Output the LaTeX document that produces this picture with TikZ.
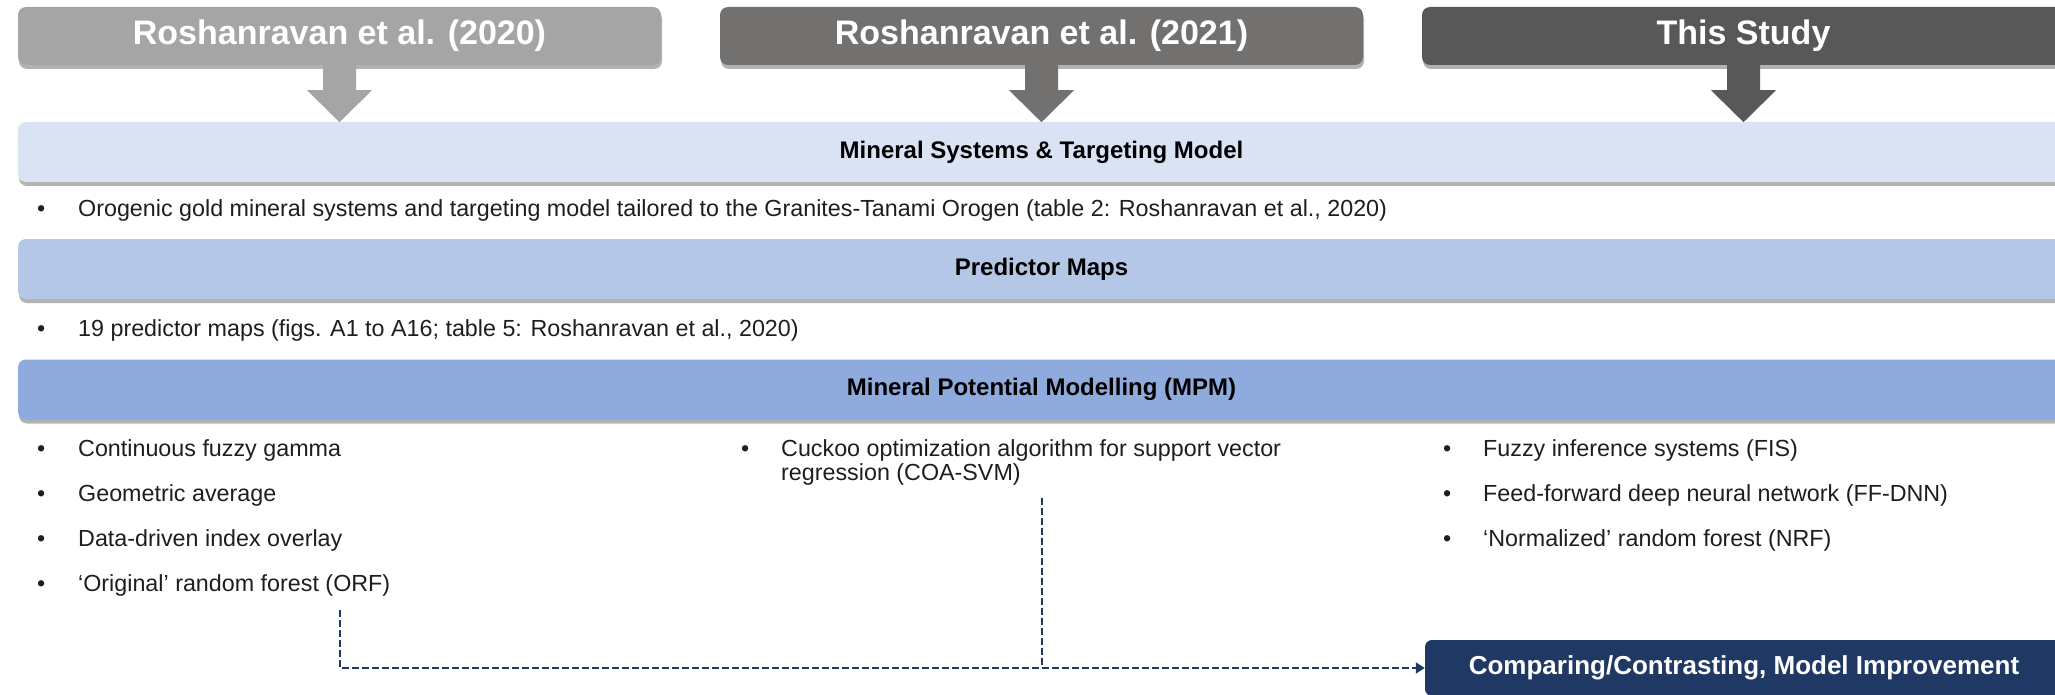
\documentclass[tikz,border=0pt]{standalone}
\usepackage{fontspec}
\setmainfont{Liberation Sans}
\usetikzlibrary{shadows,arrows.meta}
\definecolor{hA}{HTML}{A5A5A5}
\definecolor{hB}{HTML}{737070}
\definecolor{hC}{HTML}{585858}
\definecolor{bA}{HTML}{DAE3F3}
\definecolor{bB}{HTML}{B4C7E7}
\definecolor{bC}{HTML}{8FAADC}
\definecolor{navy}{HTML}{203864}
\definecolor{txt}{HTML}{1E1E1E}
\newcommand\hdrarrow[2]{\fill[#2] ([xshift=-16.5pt]#1.south) -- ++(0,25) -- ++(-16,0) -- ++(32.5,32) -- ++(32.5,-32) -- ++(-16,0) -- ++(0,-25) -- cycle;}
\begin{document}
\begin{tikzpicture}[x=1pt,y=-1pt,
  shad/.style={drop shadow={shadow xshift=1pt, shadow yshift=-4pt, opacity=0.3, fill=black}},
  hdr/.style={rounded corners=8pt, minimum width=643pt, minimum height=58pt, inner sep=0pt,
    text=white, font=\fontsize{34}{36}\selectfont\bfseries, shad},
  bar/.style={rounded corners=8pt, minimum width=2047pt, minimum height=60pt, inner sep=0pt,
    text=black, font=\fontsize{24}{26}\selectfont\bfseries, shad},
  item/.style={anchor=base west, inner sep=0pt, font=\fontsize{23.3}{24.5}\selectfont, text=txt},
  conn/.style={navy, line width=2pt, dash pattern=on 7pt off 3pt},
]
\useasboundingbox (0,0) rectangle (2055,695);
\clip (0,0) rectangle (2055,695);

% headers
\node[hdr, fill=hA] (h1) at (339.5,36) {Roshanravan et al. (2020)};
\node[hdr, fill=hB] (h2) at (1041.5,36) {Roshanravan et al. (2021)};
\node[hdr, fill=hC] (h3) at (1743.5,36) {This Study};

% bars
\node[bar, fill=bA] (b1) at (1041.5,152) {Mineral Systems \& Targeting Model};
\node[bar, fill=bB] (b2) at (1041.5,269) {Predictor Maps};
\node[bar, fill=bC] (b3) at (1041.5,389.5) {Mineral Potential Modelling (MPM)};

% arrows from headers
\hdrarrow{h1}{hA}
\hdrarrow{h2}{hB}
\hdrarrow{h3}{hC}

% items
\node[item] (i1) at (37,216) {\makebox[41pt][l]{•}Orogenic gold mineral systems and targeting model tailored to the Granites-Tanami Orogen (table 2: Roshanravan et al., 2020)};
\node[item] (i2) at (37,336) {\makebox[41pt][l]{•}19 predictor maps (figs. A1 to A16; table 5: Roshanravan et al., 2020)};

\node[item] (l1) at (37,456) {\makebox[41pt][l]{•}Continuous fuzzy gamma};
\node[item] (l2) at (37,501) {\makebox[41pt][l]{•}Geometric average};
\node[item] (l3) at (37,546) {\makebox[41pt][l]{•}Data-driven index overlay};
\node[item] (l4) at (37,591) {\makebox[41pt][l]{•}‘Original’ random forest (ORF)};

\node[item] (m1) at (741,456) {\makebox[40pt][l]{•}\parbox[t]{620pt}{\raggedright Cuckoo optimization algorithm for support vector\\regression (COA-SVM)}};

\node[item] (r1) at (1443,456) {\makebox[40pt][l]{•}Fuzzy inference systems (FIS)};
\node[item] (r2) at (1443,501) {\makebox[40pt][l]{•}Feed-forward deep neural network (FF-DNN)};
\node[item] (r3) at (1443,546) {\makebox[40pt][l]{•}‘Normalized’ random forest (NRF)};

% comparison box
\node[rounded corners=7pt, fill=navy, minimum width=638pt, minimum height=56pt, inner sep=0pt,
  text=white, font=\fontsize{26}{28}\selectfont\bfseries] (cmp) at (1744,668) {Comparing/Contrasting, Model Improvement};

% dashed connectors
\coordinate (s1) at (340,610);
\coordinate (s2) at (1042,498);
\draw[conn, -{Triangle[length=9pt,width=11pt]}] (s1) |- (cmp.west);
\draw[conn] (s2) -- (s2 |- cmp.west);
\end{tikzpicture}
\end{document}
